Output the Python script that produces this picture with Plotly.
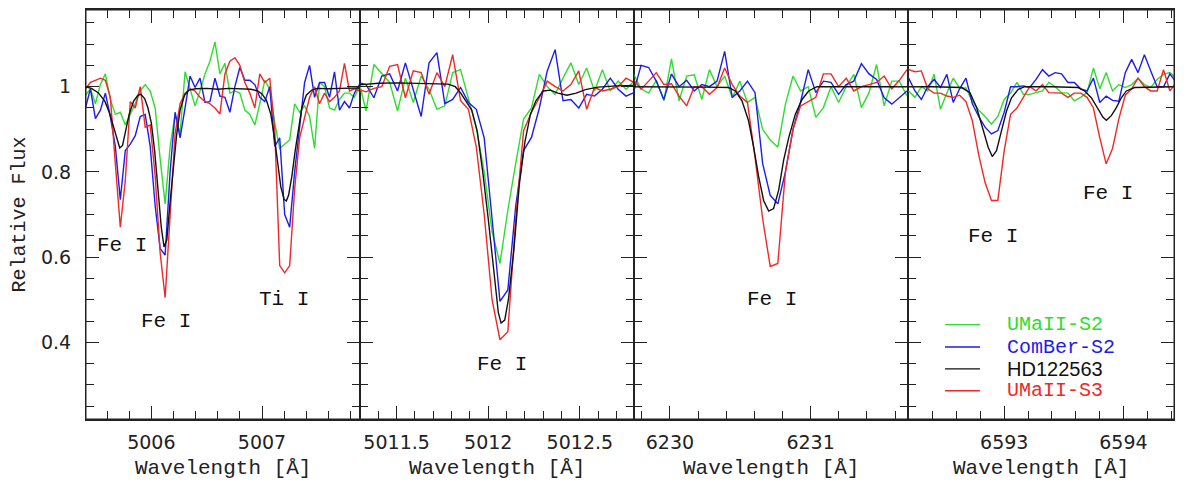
import plotly.graph_objects as go

# ---------------- Panel 1 : 5005.4 - 5007.9 A ----------------
p1_wave = [5005.405, 5005.450, 5005.495, 5005.540, 5005.585, 5005.630, 5005.675, 5005.720,
           5005.765, 5005.810, 5005.855, 5005.900, 5005.945, 5005.990, 5006.035, 5006.080,
           5006.125, 5006.170, 5006.215, 5006.260, 5006.305, 5006.350, 5006.395, 5006.440,
           5006.485, 5006.530, 5006.575, 5006.620, 5006.665, 5006.710, 5006.755, 5006.800,
           5006.845, 5006.890, 5006.935, 5006.980, 5007.025, 5007.070, 5007.115, 5007.160,
           5007.205, 5007.250, 5007.295, 5007.340, 5007.385, 5007.430, 5007.475, 5007.520,
           5007.565, 5007.610, 5007.655, 5007.700, 5007.745, 5007.790, 5007.835, 5007.880]
p1_umaii_s2 = [0.98, 0.995, 0.96, 1.005, 1.03, 0.97, 0.935, 0.94, 0.91, 0.935, 0.96, 0.99,
               1.005, 0.99, 0.95, 0.83, 0.725, 0.86, 0.935, 0.89, 1.035, 0.995, 0.955, 0.99,
               1.03, 1.06, 1.105, 1.03, 1.055, 0.985, 0.99, 0.985, 0.945, 0.935, 0.91, 0.96,
               1.015, 0.995, 0.915, 0.855, 0.865, 0.875, 0.96, 0.94, 0.955, 0.93, 0.855, 1.01,
               1.0, 0.95, 0.945, 0.97, 0.985, 0.985, 0.975, 1.0]
p1_comber_s2 = [0.95, 0.995, 0.925, 0.945, 0.985, 0.93, 0.86, 0.735, 0.85, 0.865, 0.885, 0.93,
                0.935, 0.86, 0.72, 0.62, 0.605, 0.80, 0.94, 0.88, 0.95, 1.025, 0.998, 1.02,
                0.963, 0.965, 1.02, 0.978, 0.975, 0.94, 1.0, 1.045, 1.015, 1.015, 1.005, 0.975,
                0.965, 1.0, 0.86, 0.88, 0.70, 0.67, 0.80, 0.90, 1.01, 1.05, 0.975, 1.01,
                1.01, 0.975, 1.035, 0.945, 0.965, 0.95, 0.985, 1.005]
p1_umaii_s3 = [0.995, 1.01, 1.015, 1.02, 1.015, 0.975, 0.82, 0.67, 0.78, 0.965, 0.95, 1.0,
               0.905, 0.91, 0.79, 0.61, 0.505, 0.70, 0.89, 0.96, 0.985, 0.995, 0.99, 0.975,
               0.965, 0.96, 0.95, 0.936, 1.03, 1.06, 1.068, 1.05, 1.01, 0.985, 0.95, 1.03,
               1.01, 1.02, 0.90, 0.58, 0.563, 0.58, 0.76, 0.88, 0.93, 0.975, 1.0, 0.96,
               0.985, 0.965, 0.975, 0.99, 1.055, 0.99, 0.995, 0.99]
p1_hd_wave = [5005.40, 5005.46, 5005.52, 5005.58, 5005.62, 5005.66, 5005.69, 5005.715, 5005.74,
              5005.77, 5005.80, 5005.84, 5005.88, 5005.905, 5005.94, 5005.97, 5006.00, 5006.03,
              5006.06, 5006.09, 5006.115, 5006.14, 5006.17, 5006.20, 5006.23, 5006.26, 5006.30,
              5006.34, 5006.40, 5006.50, 5006.60, 5006.70, 5006.80, 5006.90, 5006.96, 5007.00,
              5007.04, 5007.08, 5007.11, 5007.14, 5007.17, 5007.20, 5007.22, 5007.24, 5007.27,
              5007.30, 5007.33, 5007.36, 5007.40, 5007.45, 5007.50, 5007.60, 5007.70, 5007.80,
              5007.89]
p1_hd_flux = [1.000, 0.996, 0.986, 0.966, 0.940, 0.905, 0.875, 0.856, 0.862,
              0.895, 0.935, 0.966, 0.980, 0.982, 0.972, 0.950, 0.915, 0.850,
              0.760, 0.670, 0.624, 0.640, 0.730, 0.820, 0.890, 0.945, 0.980,
              0.992, 0.995, 0.996, 0.994, 0.996, 0.995, 0.994, 0.990, 0.983,
              0.968, 0.935, 0.885, 0.820, 0.765, 0.735, 0.732, 0.745, 0.790,
              0.850, 0.905, 0.950, 0.980, 0.992, 0.996, 0.995, 0.996, 0.996,
              0.997]

# ---------------- Panel 2 : 5011.3 - 5012.8 A ----------------
p2_wave = [5011.290, 5011.333, 5011.376, 5011.419, 5011.462, 5011.505, 5011.548, 5011.591,
           5011.634, 5011.677, 5011.720, 5011.763, 5011.806, 5011.849, 5011.892, 5011.935,
           5011.978, 5012.021, 5012.064, 5012.107, 5012.150, 5012.193, 5012.236, 5012.279,
           5012.322, 5012.365, 5012.408, 5012.451, 5012.494, 5012.537, 5012.580, 5012.623,
           5012.666, 5012.709, 5012.752, 5012.795]
p2_umaii_s2 = [1.02, 0.943, 1.052, 1.03, 1.01, 0.943, 1.02, 0.963, 1.025, 0.994, 0.947, 0.955,
               1.033, 1.04, 0.974, 0.904, 0.80, 0.66, 0.585, 0.71, 0.82, 0.924, 0.95, 1.029,
               1.0, 0.982, 1.02, 1.056, 1.005, 1.044, 0.99, 1.04, 0.99, 1.013, 0.994, 1.013]
p2_comber_s2 = [1.01, 1.005, 0.974, 1.025, 1.03, 0.99, 1.056, 0.99, 0.93, 1.056, 1.08, 0.96,
                0.97, 0.998, 0.963, 0.947, 0.88, 0.69, 0.496, 0.523, 0.72, 0.85, 0.881, 0.95,
                1.037, 1.087, 0.967, 0.97, 0.95, 0.982, 0.978, 0.994, 1.02, 0.994, 0.978, 0.986]
p2_umaii_s3 = [0.994, 0.988, 0.996, 1.0, 1.048, 1.052, 0.974, 1.037, 1.033, 0.982, 1.033, 1.0,
               1.075, 0.967, 0.947, 0.858, 0.70, 0.50, 0.406, 0.425, 0.69, 0.897, 0.94, 0.974,
               1.013, 1.0, 0.99, 1.005, 1.037, 0.947, 0.998, 0.99, 0.994, 1.0, 1.02, 1.01]
p2_hd_wave = [5011.29, 5011.40, 5011.50, 5011.60, 5011.70, 5011.78, 5011.82, 5011.85, 5011.88,
              5011.91, 5011.94, 5011.97, 5012.00, 5012.03, 5012.055, 5012.07, 5012.09, 5012.11,
              5012.14, 5012.17, 5012.20, 5012.23, 5012.26, 5012.30, 5012.34, 5012.38, 5012.43,
              5012.48, 5012.53, 5012.60, 5012.70, 5012.80]
p2_hd_flux = [1.004, 1.008, 1.009, 1.008, 1.008, 1.006, 1.000, 0.985, 0.965,
              0.945, 0.895, 0.800, 0.690, 0.578, 0.470, 0.445, 0.452, 0.500,
              0.617, 0.772, 0.870, 0.935, 0.967, 0.990, 0.992, 0.985, 0.980,
              0.985, 0.993, 0.999, 1.002, 1.003]

# ---------------- Panel 3 : 6229.75 - 6231.69 A ----------------
p3_wave = [6229.741, 6229.795, 6229.849, 6229.903, 6229.957, 6230.011, 6230.065, 6230.119,
           6230.173, 6230.227, 6230.281, 6230.335, 6230.389, 6230.443, 6230.497, 6230.551,
           6230.605, 6230.659, 6230.713, 6230.767, 6230.821, 6230.875, 6230.929, 6230.983,
           6231.037, 6231.091, 6231.145, 6231.199, 6231.253, 6231.307, 6231.361, 6231.415,
           6231.469, 6231.523, 6231.577, 6231.631, 6231.685]
p3_umaii_s2 = [1.03, 0.995, 0.985, 1.015, 0.967, 1.065, 0.967, 1.025, 1.028, 0.97, 1.04, 1.0,
               1.025, 0.974, 1.013, 0.963, 0.975, 0.90, 0.875, 0.858, 0.959, 1.025, 0.99, 1.0,
               0.928, 0.951, 1.0, 0.963, 1.0, 1.029, 0.951, 0.986, 1.052, 0.955, 1.013, 1.013,
               0.978]
p3_comber_s2 = [0.986, 1.05, 1.045, 1.013, 0.97, 1.03, 1.0, 1.015, 0.99, 1.005, 1.0, 1.013,
                1.083, 0.975, 0.99, 1.013, 0.986, 0.82, 0.745, 0.725, 0.80, 0.90, 0.965, 1.04,
                0.986, 1.013, 1.01, 0.982, 1.005, 1.013, 1.054, 1.03, 1.017, 0.974, 0.959, 0.975,
                0.99]
p3_umaii_s3 = [1.017, 0.994, 1.013, 1.033, 1.005, 1.007, 0.978, 0.955, 1.0, 1.0, 0.982, 0.998,
               1.044, 1.005, 0.978, 0.963, 0.834, 0.69, 0.578, 0.585, 0.80, 0.90, 0.955, 0.965,
               0.975, 1.03, 1.03, 1.0, 1.02, 0.99, 1.0, 1.005, 1.01, 1.025, 0.995, 1.015,
               1.04]
p3_hd_wave = [6229.73, 6229.90, 6230.085, 6230.25, 6230.417, 6230.465, 6230.512, 6230.559,
              6230.595, 6230.630, 6230.666, 6230.702, 6230.737, 6230.773, 6230.808, 6230.844,
              6230.891, 6230.939, 6230.986, 6231.045, 6231.20, 6231.40, 6231.697]
p3_hd_flux = [1.000, 1.000, 1.000, 0.999, 0.998, 0.990, 0.967, 0.920,
              0.858, 0.790, 0.733, 0.708, 0.714, 0.757, 0.827, 0.880,
              0.935, 0.970, 0.990, 1.000, 1.000, 1.000, 1.000]

# ---------------- Panel 4 : 6592.19 - 6594.43 A ----------------
p4_wave = [6592.197, 6592.2505, 6592.304, 6592.3575, 6592.411, 6592.4645, 6592.518, 6592.5715,
           6592.625, 6592.6785, 6592.732, 6592.7855, 6592.839, 6592.8925, 6592.946, 6592.9995,
           6593.053, 6593.1065, 6593.160, 6593.2135, 6593.267, 6593.3205, 6593.374, 6593.4275,
           6593.481, 6593.5345, 6593.588, 6593.6415, 6593.695, 6593.7485, 6593.802, 6593.8555,
           6593.909, 6593.9625, 6594.016, 6594.0695, 6594.123, 6594.1765, 6594.230, 6594.2835,
           6594.337, 6594.3905, 6594.444]
p4_umaii_s2 = [0.99, 0.975, 1.0, 0.99, 1.029, 0.947, 0.985, 1.02, 0.997, 0.997, 0.965, 0.945,
               0.93, 0.912, 0.93, 0.97, 0.985, 1.01, 0.982, 0.982, 0.986, 0.99, 1.01, 1.0,
               0.986, 0.985, 0.967, 0.975, 0.986, 1.044, 0.995, 1.033, 0.99, 1.005, 0.998, 1.005,
               1.02, 1.005, 0.998, 1.017, 1.029, 1.033, 1.02]
p4_comber_s2 = [1.02, 0.99, 0.97, 1.0, 1.017, 0.998, 1.029, 0.963, 0.995, 1.02, 0.96, 0.93,
                0.905, 0.889, 0.897, 0.94, 1.0, 1.0, 1.002, 0.998, 1.017, 1.04, 1.025, 1.033,
                1.03, 1.01, 1.01, 0.995, 0.99, 1.02, 0.963, 0.978, 0.968, 0.966, 1.033, 1.064,
                1.033, 1.075, 1.037, 1.0, 1.0, 1.03, 1.01]
p4_umaii_s3 = [1.04, 1.035, 1.037, 0.995, 0.985, 0.985, 0.978, 0.975, 0.98, 0.965, 0.92, 0.84,
               0.775, 0.733, 0.733, 0.85, 0.935, 0.95, 0.975, 1.0, 0.99, 1.005, 0.986, 0.985,
               0.985, 0.975, 0.985, 0.985, 0.975, 0.95, 0.88, 0.819, 0.855, 0.925, 0.98, 0.995,
               1.02, 1.0, 0.99, 0.99, 1.04, 0.99, 1.01]
p4_hd_wave = [6592.167, 6592.40, 6592.642, 6592.712, 6592.768, 6592.823, 6592.865, 6592.899,
              6592.935, 6592.977, 6593.019, 6593.061, 6593.117, 6593.173, 6593.40, 6593.620,
              6593.675, 6593.731, 6593.787, 6593.829, 6593.857, 6593.899, 6593.941, 6593.983,
              6594.025, 6594.095, 6594.43]
p4_hd_flux = [1.000, 1.000, 0.998, 0.986, 0.951, 0.897, 0.858, 0.836,
              0.850, 0.897, 0.943, 0.974, 0.994, 1.000, 1.000, 0.998,
              0.990, 0.974, 0.947, 0.928, 0.921, 0.932, 0.951, 0.974,
              0.990, 0.998, 1.000]

# ---------------- labels ----------------
series_names = ["UMaII-S2", "ComBer-S2", "HD122563", "UMaII-S3"]
series_colors = ["#2fdc2f", "#1c1cf0", "#111111", "#f02828"]
x_ranges = [[5005.41, 5007.885], [5011.30, 5012.798], [6229.748, 6231.689], [6592.188, 6594.425]]
x_dticks = [1, 0.5, 1, 1]
x_minor = [0.2, 0.1, 0.2, 0.2]
line_labels = [  # (panel, wavelength, flux, text)
    (1, 5005.731, 0.628, "Fe I"), (1, 5006.136, 0.449, "Fe I"), (1, 5007.197, 0.50, "Ti I"),
    (2, 5012.073, 0.348, "Fe I"), (3, 6230.723, 0.50, "Fe I"),
    (4, 6592.905, 0.648, "Fe I"), (4, 6593.870, 0.749, "Fe I"),
]

panels = [
    (p1_wave, p1_umaii_s2, p1_comber_s2, p1_umaii_s3, p1_hd_wave, p1_hd_flux),
    (p2_wave, p2_umaii_s2, p2_comber_s2, p2_umaii_s3, p2_hd_wave, p2_hd_flux),
    (p3_wave, p3_umaii_s2, p3_comber_s2, p3_umaii_s3, p3_hd_wave, p3_hd_flux),
    (p4_wave, p4_umaii_s2, p4_comber_s2, p4_umaii_s3, p4_hd_wave, p4_hd_flux),
]

fig = go.Figure()
for i, (wv, g, b, r, hw, hf) in enumerate(panels):
    xa = "x" if i == 0 else f"x{i+1}"
    ya = "y" if i == 0 else f"y{i+1}"
    for nm, col, xs, ys in [(series_names[0], series_colors[0], wv, g),
                            (series_names[1], series_colors[1], wv, b),
                            (series_names[3], series_colors[3], wv, r),
                            (series_names[2], series_colors[2], hw, hf)]:
        fig.add_trace(go.Scatter(x=xs, y=ys, mode="lines", name=nm, xaxis=xa, yaxis=ya,
                                 line=dict(color=col, width=1.4), showlegend=False,
                                 cliponaxis=True))

domains = [[0.0, 0.2518], [0.2518, 0.5041], [0.5041, 0.7551], [0.7551, 1.0]]
axcol = "#222222"
tickfont = dict(family="DejaVu Sans", size=19, color=axcol)
layout = dict(
    width=1188, height=482,
    margin=dict(l=86, r=14, t=8, b=63),
    paper_bgcolor="white", plot_bgcolor="white",
    showlegend=False,
)
for i in range(4):
    xk = "xaxis" if i == 0 else f"xaxis{i+1}"
    yk = "yaxis" if i == 0 else f"yaxis{i+1}"
    xa = "x" if i == 0 else f"x{i+1}"
    ya = "y" if i == 0 else f"y{i+1}"
    layout[xk] = dict(
        domain=domains[i], anchor=ya, range=x_ranges[i],
        showline=True, linewidth=1.5, linecolor=axcol, mirror="allticks",
        ticks="inside", ticklen=13, tickwidth=1.4, tickcolor=axcol,
        dtick=x_dticks[i], tick0=0, tickformat="~g", showgrid=False, zeroline=False,
        tickfont=tickfont, ticklabelstandoff=5,
        minor=dict(ticks="inside", ticklen=8, tickwidth=1.4, tickcolor=axcol,
                   dtick=x_minor[i], tick0=0, showgrid=False),
    )
    ydict = dict(
        domain=[0, 1], anchor=xa, range=[0.22, 1.18],
        showline=True, linewidth=1.0, linecolor=axcol, mirror="allticks",
        ticks="inside", ticklen=13, tickwidth=1.4, tickcolor=axcol,
        dtick=0.2, tick0=0, showgrid=False, zeroline=False,
        tickfont=tickfont, ticklabelstandoff=10,
        minor=dict(ticks="inside", ticklen=8, tickwidth=1.4, tickcolor=axcol,
                   dtick=0.05, tick0=0, showgrid=False),
    )
    if i > 0:
        ydict["matches"] = "y"
        ydict["showticklabels"] = False
    layout[yk] = ydict
fig.update_layout(**layout)

mono = "Liberation Mono, Courier New, monospace"
ann = []
for i in range(4):
    xd = "x domain" if i == 0 else f"x{i+1} domain"
    ann.append(dict(text="Wavelength [Å]", xref=xd, yref="paper", x=0.5, y=0,
                    yshift=-49, showarrow=False, xanchor="center", yanchor="middle",
                    font=dict(family=mono, size=21, color=axcol)))
ann.append(dict(text="Relative Flux", xref="paper", yref="paper", x=0, y=0.5, xshift=-67,
                textangle=-90, showarrow=False, xanchor="center", yanchor="middle",
                font=dict(family=mono, size=20, color=axcol)))
for (p, wl, fl, t) in line_labels:
    xr = "x" if p == 1 else f"x{p}"
    yr = "y" if p == 1 else f"y{p}"
    ann.append(dict(text=t, xref=xr, yref=yr, x=wl, y=fl, showarrow=False,
                    xanchor="center", yanchor="middle",
                    font=dict(family=mono, size=21, color="#111111")))

# manual legend inside panel 4
legend_rows = [0.4415, 0.389, 0.3377, 0.2864]
legend_fonts = [mono, mono, "Liberation Sans, Arial, sans-serif", mono]
shapes = [dict(type="rect", xref="paper", yref="paper", x0=0, x1=1, y0=0, y1=1,
               line=dict(color=axcol, width=1.0), fillcolor="rgba(0,0,0,0)", layer="above")]
for idx, (nm, col) in enumerate(zip(series_names, series_colors)):
    yv = legend_rows[idx]
    shapes.append(dict(type="line", xref="x4 domain", yref="y4", x0=0.1407, x1=0.272,
                       y0=yv, y1=yv, line=dict(color=col, width=1.4)))
    ann.append(dict(text=nm, xref="x4 domain", yref="y4", x=0.366, y=yv, showarrow=False,
                    xanchor="left", yanchor="middle",
                    font=dict(family=legend_fonts[idx], size=20, color=col)))
fig.update_layout(annotations=ann, shapes=shapes)

fig.write_html("out.html", config={"displayModeBar": False},
               post_script="document.body.style.margin='0';document.body.style.padding='0';"
                           "document.body.style.overflow='hidden';")
